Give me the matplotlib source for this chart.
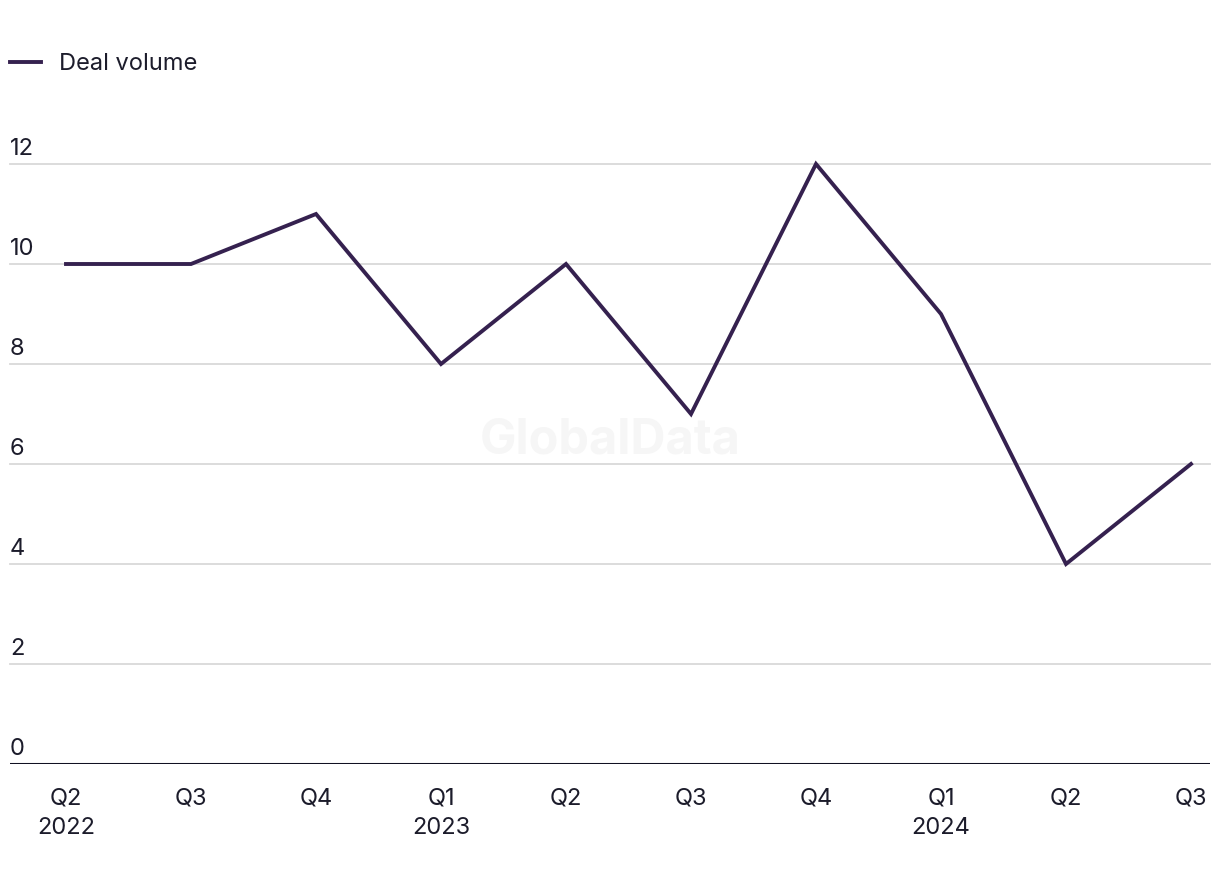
import matplotlib
matplotlib.use("Agg")
import matplotlib.pyplot as plt
import matplotlib.transforms as mtransforms

quarters = ['Q2\n2022', 'Q3', 'Q4', 'Q1\n2023', 'Q2', 'Q3', 'Q4', 'Q1\n2024', 'Q2', 'Q3']
deal_volume = [10, 10, 11, 8, 10, 7, 12, 9, 4, 6]
y_ticks = [0, 2, 4, 6, 8, 10, 12]

line_color = '#35214f'
text_color = '#1c1c2b'
grid_color = '#d9d9d9'

plt.rcParams['font.family'] = ['Inter', 'DejaVu Sans']

fig = plt.figure(figsize=(12.2, 8.84), dpi=100)
ax = fig.add_axes([10/1220, 120/884, 1200/1220, 600/884])

x = list(range(len(deal_volume)))
ax.plot(x, deal_volume, color=line_color, lw=2.8, label='Deal volume',
        clip_on=False, zorder=3, solid_joinstyle='miter')

ax.set_xlim(-0.448, 9.152)
ax.set_ylim(0, 12)

# gridlines and y labels sitting above each line
trans = mtransforms.blended_transform_factory(ax.transAxes, ax.transData)
for v in y_ticks:
    if v > 0:
        ax.axhline(v, color=grid_color, lw=1.3, zorder=1, clip_on=False)
    ax.text(0, v + 0.18, str(v), transform=trans, ha='left', va='baseline',
            fontsize=17, color=text_color)
ax.axhline(0, color='#111122', lw=2.2, zorder=4)

ax.set_yticks([])
ax.set_xticks(x)
ax.set_xticklabels(quarters, fontsize=17, color=text_color, linespacing=1.45)
ax.tick_params(axis='x', length=0, pad=17)
for s in ax.spines.values():
    s.set_visible(False)

fig.text(610/1220, 1 - 441/884, 'GlobalData', ha='center', va='center',
         fontsize=35, fontweight='bold', color='#f6f6f6', zorder=0)

fig.legend(loc='upper left', bbox_to_anchor=(10/1220, 1 - 53/884), frameon=False,
           fontsize=17, handlelength=1.3, handletextpad=0.76, borderpad=0,
           borderaxespad=0, labelcolor=text_color)

fig.savefig('out.png', dpi=100)
